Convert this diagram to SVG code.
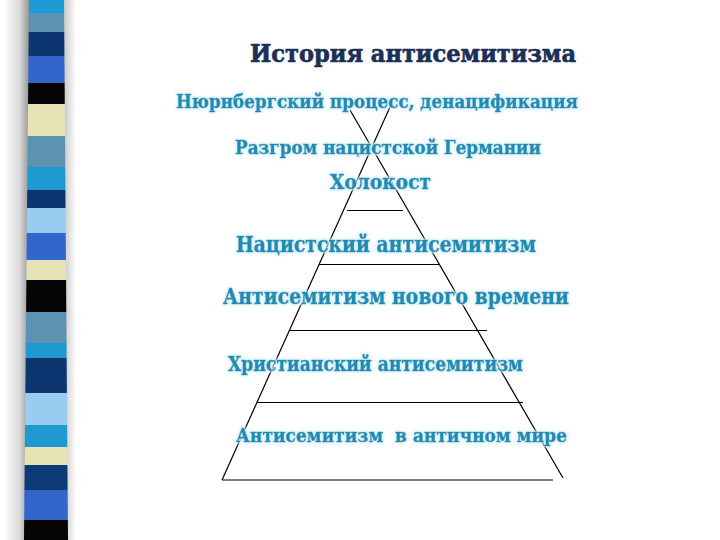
<svg xmlns="http://www.w3.org/2000/svg" width="720" height="540" viewBox="0 0 720 540">
<defs>
<style>
.lvl{font-family:"DejaVu Serif","Liberation Serif",serif;font-weight:bold;fill:#1e8cb4;stroke:#1e8cb4;stroke-width:0.5;filter:url(#glow);white-space:pre}
.ttl{font-family:"DejaVu Serif","Liberation Serif",serif;font-weight:bold;fill:#1b2f57;stroke:#1b2f57;stroke-width:0.7}
.ln{stroke:#000;stroke-width:1.2;fill:none}
</style>
<filter id="glow" x="-5%" y="-30%" width="110%" height="160%">
<feMorphology in="SourceAlpha" operator="dilate" radius="1.2" result="d"/>
<feGaussianBlur in="d" stdDeviation="1.5" result="b"/>
<feFlood flood-color="#d2f0fa"/>
<feComposite in2="b" operator="in" result="g"/>
<feMerge><feMergeNode in="g"/><feMergeNode in="SourceGraphic"/></feMerge>
</filter>
<linearGradient id="shL" x1="0" y1="0" x2="1" y2="0">
<stop offset="0" stop-color="#fff"/>
<stop offset="0.6" stop-color="#d8d8d8"/>
<stop offset="1" stop-color="#909090"/>
</linearGradient>
<linearGradient id="shR" x1="0" y1="0" x2="1" y2="0">
<stop offset="0" stop-color="#c0c0c0"/>
<stop offset="1" stop-color="#fff"/>
</linearGradient>
<clipPath id="barClip"><polygon points="29,0 64,0 68,540 24,540"/></clipPath>
</defs>
<rect width="720" height="540" fill="#fff"/>
<g id="sidebar">
<rect x="4" y="0" width="26" height="540" fill="url(#shL)"/>
<rect x="62" y="0" width="14" height="540" fill="url(#shR)"/>
<g clip-path="url(#barClip)">
<rect x="20" y="0" width="50" height="13" fill="#1e9ad6"/>
<rect x="20" y="13" width="50" height="19" fill="#5b93b0"/>
<rect x="20" y="32" width="50" height="24" fill="#0d3670"/>
<rect x="20" y="56" width="50" height="27" fill="#3366cc"/>
<rect x="20" y="83" width="50" height="21" fill="#050505"/>
<rect x="20" y="104" width="50" height="32" fill="#e6e2b6"/>
<rect x="20" y="136" width="50" height="31" fill="#5b93b0"/>
<rect x="20" y="167" width="50" height="23" fill="#1e9ad0"/>
<rect x="20" y="190" width="50" height="18" fill="#0d3670"/>
<rect x="20" y="208" width="50" height="25" fill="#99ccf0"/>
<rect x="20" y="233" width="50" height="27" fill="#3366cc"/>
<rect x="20" y="260" width="50" height="20" fill="#e6e2b6"/>
<rect x="20" y="280" width="50" height="32" fill="#050505"/>
<rect x="20" y="312" width="50" height="31" fill="#5b93b0"/>
<rect x="20" y="343" width="50" height="15" fill="#1e9ad0"/>
<rect x="20" y="358" width="50" height="35" fill="#0d3670"/>
<rect x="20" y="393" width="50" height="32" fill="#99ccf0"/>
<rect x="20" y="425" width="50" height="22" fill="#1e9ad0"/>
<rect x="20" y="447" width="50" height="18" fill="#e6e2b6"/>
<rect x="20" y="465" width="50" height="25" fill="#0d3a75"/>
<rect x="20" y="490" width="50" height="30" fill="#3366cc"/>
<rect x="20" y="520" width="50" height="20" fill="#050505"/>
</g>
</g>
<g id="connectors">
<line class="ln" x1="390" y1="107" x2="222" y2="480"/>
<line class="ln" x1="350" y1="110" x2="563" y2="478"/>
<line class="ln" x1="347" y1="210.5" x2="403" y2="210.5"/>
<line class="ln" x1="319" y1="264.5" x2="439" y2="264.5"/>
<line class="ln" x1="290" y1="330.5" x2="487" y2="330.5"/>
<line class="ln" x1="257" y1="402.5" x2="523" y2="402.5"/>
<line class="ln" x1="222" y1="480" x2="553" y2="480"/>
</g>
<g id="title"><text class="ttl" x="250" y="62" font-size="25" textLength="326" lengthAdjust="spacingAndGlyphs">История антисемитизма</text></g>
<g id="nuremberg"><text class="lvl" x="176" y="107.5" font-size="18" textLength="402" lengthAdjust="spacingAndGlyphs">Нюрнбергский процесс, денацификация</text></g>
<g id="defeat"><text class="lvl" x="235" y="154" font-size="18" textLength="306" lengthAdjust="spacingAndGlyphs">Разгром нацистской Германии</text></g>
<g id="holocaust"><text class="lvl" x="330" y="189" font-size="20.5" textLength="101" lengthAdjust="spacingAndGlyphs">Холокост</text></g>
<g id="nazi"><text class="lvl" x="236" y="251.5" font-size="21.5" textLength="300" lengthAdjust="spacingAndGlyphs">Нацистский антисемитизм</text></g>
<g id="modern"><text class="lvl" x="223" y="304" font-size="21.5" textLength="346" lengthAdjust="spacingAndGlyphs">Антисемитизм нового времени</text></g>
<g id="christian"><text class="lvl" x="228" y="370.5" font-size="19.5" textLength="295" lengthAdjust="spacingAndGlyphs">Христианский антисемитизм</text></g>
<g id="ancient"><text class="lvl" x="236" y="441.5" font-size="19" textLength="331" lengthAdjust="spacingAndGlyphs">Антисемитизм  в античном мире</text></g>
</svg>
